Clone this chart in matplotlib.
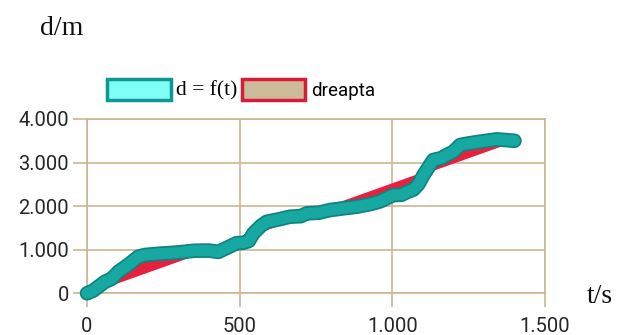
import numpy as np
import matplotlib
import matplotlib.pyplot as plt
import matplotlib.patheffects as pe
from matplotlib.patches import Patch
from matplotlib.ticker import FuncFormatter

matplotlib.use("Agg")

# measured distance d (m) versus time t (s)
t_values = [0, 20, 59, 80, 103, 140, 168, 190, 240, 288, 354, 400, 430,
            460, 490, 512, 530, 545, 570, 589, 630, 665, 700, 720, 760,
            796, 840, 883, 930, 960, 1003, 1030, 1050, 1069, 1085, 1102,
            1134, 1160, 1178, 1200, 1222, 1250, 1287, 1342, 1400]
d_values = [0, 60, 266, 330, 496, 680, 840, 880, 910, 932, 978, 980, 950,
            1050, 1150, 1160, 1200, 1377, 1550, 1643, 1700, 1758, 1770,
            1835, 1850, 1911, 1950, 1987, 2050, 2110, 2255, 2260, 2330,
            2380, 2500, 2714, 3059, 3100, 3173, 3250, 3403, 3440, 3479,
            3533, 3500]

x_ticks = [0, 500, 1000, 1500]
y_ticks = [0, 1000, 2000, 3000, 4000]
labels = ["d = f(t)", "dreapta"]

grid_col = "#cbb892"
teal = "#17a8a2"
teal_dark = "#0c8580"
red = "#e8203f"


def dot_thousands(v, pos):
    return f"{int(v):,}".replace(",", ".")


fig = plt.figure(figsize=(6.32, 3.35), dpi=100)
ax = fig.add_axes([87/632, 1 - 293.3/335, 458/632, 174.3/335])

# "dreapta": the polygon closed by the straight line from first to last point
ax.fill(t_values, d_values, facecolor=red, edgecolor=red, linewidth=1.5,
        zorder=2)
ax.plot(t_values, d_values, color=teal, linewidth=8, solid_capstyle="round",
        solid_joinstyle="round", clip_on=False, zorder=3,
        path_effects=[pe.Stroke(linewidth=10.5, foreground=teal_dark),
                      pe.Normal()])

ax.set_xlim(0, 1500)
ax.set_ylim(0, 4000)
ax.set_xticks(x_ticks)
ax.set_yticks(y_ticks)
ax.xaxis.set_major_formatter(FuncFormatter(dot_thousands))
ax.yaxis.set_major_formatter(FuncFormatter(dot_thousands))
ax.grid(color=grid_col, linewidth=1.2)
ax.set_axisbelow(True)
for s in ax.spines.values():
    s.set_color(grid_col)
    s.set_linewidth(1.2)
ax.tick_params(axis="both", direction="out", length=10, width=1.2,
               color=grid_col, labelcolor="#262626", labelsize=14.5)
ax.tick_params(axis="x", pad=7)
ax.tick_params(axis="y", pad=3)
for lab in ax.get_xticklabels() + ax.get_yticklabels():
    lab.set_family("Roboto")

fig.text(40/632, 1 - 35/335, "d/m", family="Liberation Serif", fontsize=20,
         color="#111111")
fig.text(587/632, 1 - 303/335, "t/s", family="Liberation Serif", fontsize=20,
         color="#111111")

handles = [Patch(facecolor="#80fff6", edgecolor="#0e9893", linewidth=2.5),
           Patch(facecolor="#cbbb98", edgecolor="#d81b3a", linewidth=2.5)]
leg = fig.legend(handles, labels, ncol=2, frameon=False,
                 loc="center", bbox_to_anchor=(241/632, 1 - 90/335),
                 handlelength=3.4, handleheight=1.35, handletextpad=0.3,
                 columnspacing=0.2, fontsize=13.5)
leg.get_texts()[0].set_family("Liberation Serif")
leg.get_texts()[0].set_fontsize(15.5)
leg.get_texts()[1].set_family("Roboto")

fig.savefig("out.png")
